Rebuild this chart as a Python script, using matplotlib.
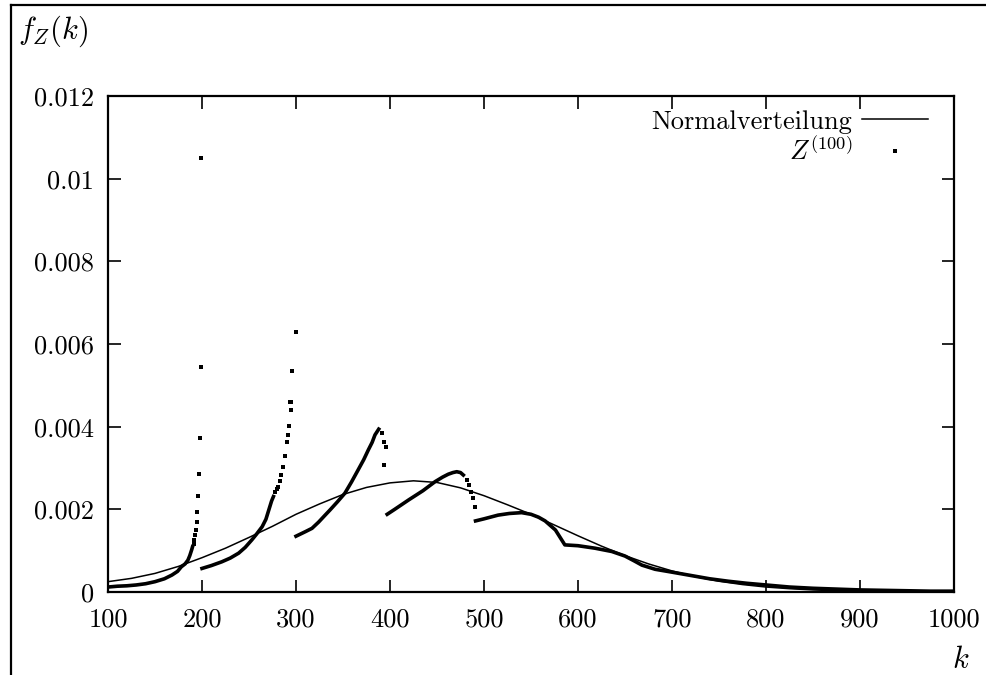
import matplotlib

matplotlib.use("Agg")

import matplotlib.pyplot as plt
import numpy as np
from matplotlib.lines import Line2D

# Normalverteilung
normal_k = [100, 125, 150, 175, 200, 225, 250, 275, 300, 325, 350, 375, 400, 425,
            450, 475, 500, 525, 550, 575, 600, 625, 650, 675, 700, 725, 750, 775,
            800, 825, 850, 875, 900, 950, 1000]
normal_f = [0.00025, 0.00033, 0.00045, 0.00062, 0.00083, 0.00106, 0.00132, 0.00159,
            0.00188, 0.00213, 0.00236, 0.00253, 0.00264, 0.00269, 0.00265, 0.00252,
            0.00233, 0.00211, 0.00188, 0.00162, 0.00136, 0.00111, 0.00088, 0.00068,
            0.00051, 0.00037, 0.00026, 0.00018, 0.00012, 0.00008, 0.00005, 0.00003,
            0.00002, 0.00001, 0.000004]

# Z^(100): dense stretches (drawn as a thick run of dots)
seg1_k = [100, 110, 120, 130, 140, 150, 160, 168, 174, 178, 182, 185, 187, 189, 190]
seg1_f = [0.00012, 0.00014, 0.00015, 0.00017, 0.0002, 0.00025, 0.00032, 0.00041,
          0.0005, 0.00061, 0.00068, 0.00077, 0.00088, 0.00102, 0.0011]
seg2_k = [200, 210, 221, 230, 239, 246, 253, 258, 264, 268, 271, 274, 276]
seg2_f = [0.00057, 0.00064, 0.00073, 0.00082, 0.00094, 0.00108, 0.00126, 0.0014,
          0.00158, 0.00176, 0.00198, 0.0022, 0.00231]
seg3_k = [300, 310, 317, 324, 331, 336, 344, 352, 359, 366, 372, 377, 381, 384, 388]
seg3_f = [0.00135, 0.00146, 0.00154, 0.00169, 0.00186, 0.00198, 0.00218, 0.00239,
          0.00266, 0.00295, 0.0032, 0.00344, 0.00362, 0.0038, 0.00394]
seg4_k = [397, 405, 420, 435, 448, 456, 462, 467, 471, 475, 478]
seg4_f = [0.00188, 0.002, 0.00223, 0.00245, 0.00267, 0.00278, 0.00285, 0.00289,
          0.00291, 0.00289, 0.00283]
seg5_k = [491, 500, 515, 527, 540, 550, 558, 565, 570, 576, 581, 586, 600, 618, 636,
          650, 660, 668, 682, 700, 720, 740, 760, 780, 800, 825, 850, 875, 900, 925,
          950, 975, 1000]
seg5_f = [0.00172, 0.00177, 0.00186, 0.0019, 0.00192, 0.00188, 0.00181, 0.00172,
          0.00162, 0.0015, 0.00132, 0.00114, 0.00112, 0.00106, 0.00098, 0.00087,
          0.00075, 0.00065, 0.00055, 0.00048, 0.0004, 0.00032, 0.00026, 0.00021,
          0.00017, 0.00012, 0.00009, 0.00007, 0.00005, 0.00004, 0.00003, 0.00002,
          0.00002]

# Z^(100): sparse dots on the steep flanks
dots_k = [191.1, 191.8, 192.6, 193.3, 194.4, 195.0, 196.1, 197.1, 198.2, 199.3, 198.5,
          277.5, 279.3, 281.2, 282.5, 283.7, 285.8, 288.3, 290.7, 291.5, 292.6, 294.7,
          293.5, 294.5, 296.0, 300.0,
          391.0, 393.6, 395.4, 393.9,
          481.6, 484.0, 486.5, 488.6, 490.4]
dots_f = [0.00116, 0.00126, 0.00138, 0.0015, 0.0017, 0.00194, 0.00232, 0.00285,
          0.00372, 0.00544, 0.0105,
          0.00242, 0.00249, 0.00255, 0.00268, 0.00283, 0.00303, 0.0033, 0.00362,
          0.0038, 0.00402, 0.0044, 0.0046, 0.0046, 0.00535, 0.0063,
          0.00384, 0.00364, 0.0035, 0.00307,
          0.00271, 0.00259, 0.00243, 0.00227, 0.00206]

x_ticks = [100, 200, 300, 400, 500, 600, 700, 800, 900, 1000]
y_ticks = [0, 0.002, 0.004, 0.006, 0.008, 0.01, 0.012]
y_tick_labels = ["0", "0.002", "0.004", "0.006", "0.008", "0.01", "0.012"]

plt.rcParams.update({
    "font.family": "serif",
    "font.serif": ["cmr10", "DejaVu Serif"],
    "mathtext.fontset": "cm",
    "axes.formatter.use_mathtext": True,
    "font.size": 19,
})

fig = plt.figure(figsize=(9.86, 6.75), dpi=100, facecolor="white")
ax = fig.add_axes([108 / 986, 1 - 592 / 675, 846 / 986, 496 / 675])

ax.plot(normal_k, normal_f, color="black", lw=1.1, label="Normalverteilung", zorder=3)

z_k, z_f = [], []
for ks, fs in [(seg1_k, seg1_f), (seg2_k, seg2_f), (seg3_k, seg3_f),
               (seg4_k, seg4_f), (seg5_k, seg5_f)]:
    z_k += ks + [np.nan]
    z_f += fs + [np.nan]
ax.plot(z_k, z_f, color="black", lw=2.6, zorder=2)
ax.plot(dots_k, dots_f, ls="none", marker="s", ms=2.2, mew=0, color="black",
        label=r"$Z^{(100)}$", zorder=2)

ax.set_xlim(100, 1000)
ax.set_ylim(0, 0.012)
ax.set_xticks(x_ticks)
ax.set_xticklabels([str(v) for v in x_ticks])
ax.set_yticks(y_ticks)
ax.set_yticklabels(y_tick_labels)
ax.tick_params(direction="in", length=9, width=1.2, top=True, right=True, labelsize=19)
ax.tick_params(axis="x", pad=11)
ax.tick_params(axis="y", pad=10)
for spine in ax.spines.values():
    spine.set_linewidth(1.6)

ax.legend(loc="upper right", bbox_to_anchor=((928 - 108) / 846, (592 - 110) / 496),
          frameon=False, markerfirst=False, handlelength=2.5, handletextpad=0.38,
          borderaxespad=0, borderpad=0, labelspacing=0.12, fontsize=19)

fig.text(18 / 986, 1 - 31 / 675, r"$f_Z(k)$", fontsize=22, ha="left", va="center")
fig.text(961 / 986, 1 - 660 / 675, r"$k$", fontsize=22, ha="center", va="center")

# outer frame (left and top edges visible in the crop)
fig.add_artist(Line2D([10.5 / 986, 10.5 / 986], [0, 1 - 4.5 / 675],
                      transform=fig.transFigure, color="black", lw=1.6))
fig.add_artist(Line2D([10.5 / 986, 1], [1 - 4.5 / 675, 1 - 4.5 / 675],
                      transform=fig.transFigure, color="black", lw=1.6))

fig.savefig("out.png", dpi=100, facecolor="white")
